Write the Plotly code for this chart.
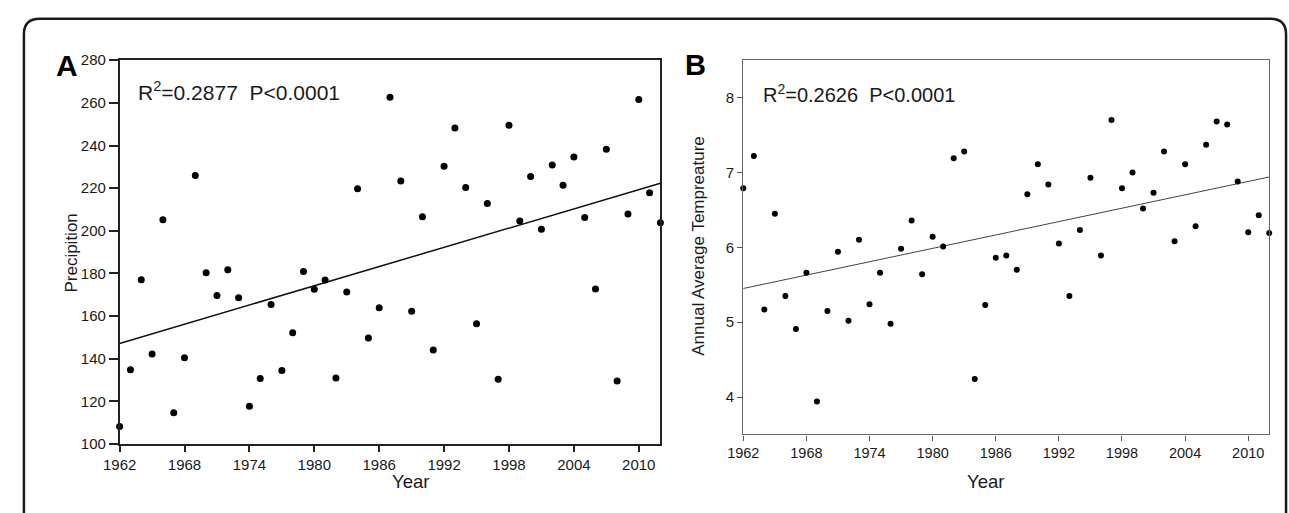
import plotly.graph_objects as go

W, H = 1289, 513
FONT = "Arial, Liberation Sans, sans-serif"

# ---------------- data ----------------
years = list(range(1962, 2013))
precip = [108.3, 134.8, 177.1, 142.2, 205.2, 114.7, 140.5, 225.9, 180.3, 169.7,
          181.8, 168.6, 117.8, 130.7, 165.5, 134.5, 152.2, 180.9, 172.6, 177.0,
          131.0, 171.3, 219.7, 149.7, 163.9, 262.7, 223.4, 162.3, 206.6, 144.1,
          230.3, 248.2, 220.3, 156.4, 212.8, 130.4, 249.5, 204.6, 225.5, 200.8,
          230.9, 221.4, 234.6, 206.3, 172.7, 238.3, 129.6, 207.9, 261.6, 217.9,
          203.8]
temp = [6.79, 7.22, 5.17, 6.45, 5.35, 4.91, 5.66, 3.94, 5.15, 5.94,
        5.02, 6.10, 5.24, 5.66, 4.98, 5.98, 6.36, 5.64, 6.14, 6.01,
        7.19, 7.28, 4.24, 5.23, 5.86, 5.89, 5.70, 6.71, 7.11, 6.84,
        6.05, 5.35, 6.23, 6.93, 5.89, 7.70, 6.79, 7.00, 6.52, 6.73,
        7.28, 6.08, 7.11, 6.28, 7.37, 7.68, 7.64, 6.88, 6.20, 6.43,
        6.19]
fit_years = [1962, 2012]
fit_precip = [147.2, 222.3]
fit_temp = [5.45, 6.94]
year_ticks = [1962, 1968, 1974, 1980, 1986, 1992, 1998, 2004, 2010]
precip_ticks = [100, 120, 140, 160, 180, 200, 220, 240, 260, 280]
temp_ticks = [4, 5, 6, 7, 8]


def px(x):
    return x / W


def py(y):
    return 1 - y / H


fig = go.Figure()

fig.add_trace(go.Scatter(x=fit_years, y=fit_precip, mode="lines",
                         line=dict(color="#111111", width=1.5),
                         xaxis="x", yaxis="y", showlegend=False))
fig.add_trace(go.Scatter(x=years, y=precip, mode="markers",
                         marker=dict(color="#000000", size=7),
                         xaxis="x", yaxis="y", showlegend=False, cliponaxis=False))
fig.add_trace(go.Scatter(x=fit_years, y=fit_temp, mode="lines",
                         line=dict(color="#444444", width=1),
                         xaxis="x2", yaxis="y2", showlegend=False))
fig.add_trace(go.Scatter(x=years, y=temp, mode="markers",
                         marker=dict(color="#000000", size=6),
                         xaxis="x2", yaxis="y2", showlegend=False, cliponaxis=False))

tickfont = dict(family=FONT, size=15, color="#1a1a1a")

fig.update_layout(
    width=W, height=H,
    margin=dict(l=0, r=0, t=0, b=0),
    paper_bgcolor="white", plot_bgcolor="white",
    font=dict(family=FONT, color="#1a1a1a"),
    xaxis=dict(domain=[px(104), px(652)], range=[1962, 2012], tickvals=year_ticks,
               ticks="outside", ticklen=6, tickwidth=1.5, tickcolor="#222",
               showline=True, linecolor="#222", linewidth=1.5, mirror=True,
               showgrid=False, zeroline=False, tickfont=tickfont, anchor="y"),
    yaxis=dict(domain=[py(450), py(53)], range=[100, 280], tickvals=precip_ticks,
               ticks="outside", ticklen=9, tickwidth=1.5, tickcolor="#222",
               showline=True, linecolor="#222", linewidth=1.5, mirror=True,
               showgrid=False, zeroline=False, tickfont=tickfont, anchor="x"),
    xaxis2=dict(domain=[px(736), px(1269)], range=[1962, 2012], tickvals=year_ticks,
                ticks="outside", ticklen=5, tickwidth=1, tickcolor="#555",
                showline=True, linecolor="#666", linewidth=1.2, mirror=True,
                showgrid=False, zeroline=False,
                tickfont=dict(family=FONT, size=14.5, color="#1a1a1a"), anchor="y2"),
    yaxis2=dict(domain=[py(440), py(53)], range=[3.5, 8.5], tickvals=temp_ticks,
                ticks="outside", ticklen=5, tickwidth=1, tickcolor="#555",
                showline=True, linecolor="#666", linewidth=1.2, mirror=True,
                showgrid=False, zeroline=False,
                tickfont=dict(family=FONT, size=15, color="#1a1a1a"), anchor="x2"),
)

ann = []
ann.append(dict(text="<b>A</b>", x=px(38), y=py(39), xref="paper", yref="paper",
                showarrow=False, font=dict(family=FONT, size=30, color="#000")))
ann.append(dict(text="<b>B</b>", x=px(688), y=py(39), xref="paper", yref="paper",
                showarrow=False, font=dict(family=FONT, size=29, color="#000")))
ann.append(dict(text="R<sup>2</sup>=0.2877 \u00a0P&lt;0.0001", x=px(121), y=py(85),
                xref="paper", yref="paper", xanchor="left", yanchor="middle",
                showarrow=False, font=dict(family=FONT, size=21, color="#1a1a1a")))
ann.append(dict(text="R<sup>2</sup>=0.2626 \u00a0P&lt;0.0001", x=px(754), y=py(87),
                xref="paper", yref="paper", xanchor="left", yanchor="middle",
                showarrow=False, font=dict(family=FONT, size=20, color="#1a1a1a")))
ann.append(dict(text="Year", x=px(378), y=py(502), xref="paper", yref="paper",
                showarrow=False, font=dict(family=FONT, size=18.5, color="#1a1a1a")))
ann.append(dict(text="Year", x=px(1002), y=py(502), xref="paper", yref="paper",
                showarrow=False, font=dict(family=FONT, size=18.5, color="#1a1a1a")))
ann.append(dict(text="Precipition", x=px(44), y=py(252), xref="paper", yref="paper",
                textangle=-90, showarrow=False,
                font=dict(family=FONT, size=17, color="#1a1a1a")))
ann.append(dict(text="Annual Average Tempreature", x=px(691), y=py(245), xref="paper",
                yref="paper", textangle=-90, showarrow=False,
                font=dict(family=FONT, size=17, color="#1a1a1a")))
fig.update_layout(annotations=ann)

# outer rounded frame (bottom edge runs off the page)
x0, x1, y0, y1, r = 7, 1286, 10, 540, 16
path = (f"M {px(x0 + r)},{py(y0)} L {px(x1 - r)},{py(y0)} "
        f"Q {px(x1)},{py(y0)} {px(x1)},{py(y0 + r)} L {px(x1)},{py(y1)} "
        f"L {px(x0)},{py(y1)} L {px(x0)},{py(y0 + r)} "
        f"Q {px(x0)},{py(y0)} {px(x0 + r)},{py(y0)} Z")
fig.add_shape(type="path", path=path, xref="paper", yref="paper",
              line=dict(color="#1a1a1a", width=2.5), layer="below")

fig.write_html("out.html", config={"displayModeBar": False},
               post_script="document.body.style.margin='0';"
                           "document.body.style.overflow='hidden';")
